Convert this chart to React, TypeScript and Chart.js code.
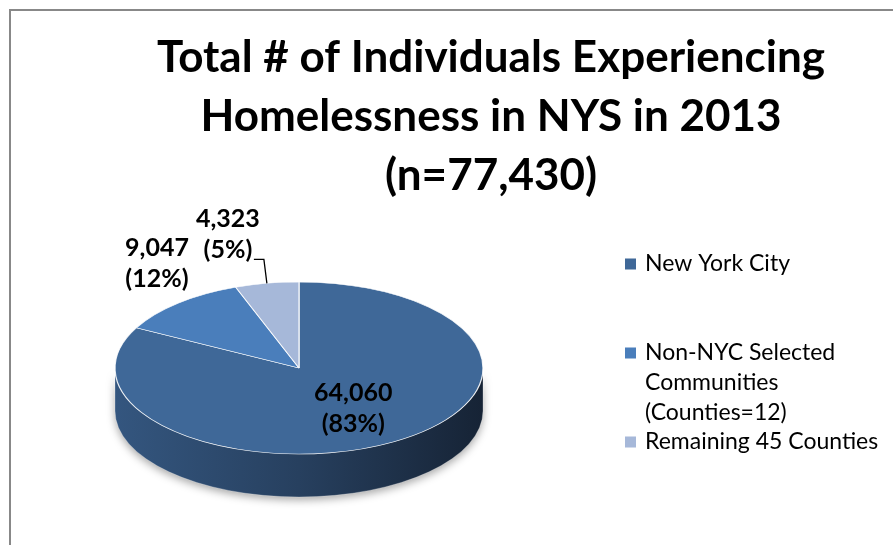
import React, { useEffect, useRef } from "react";
import { Chart, registerables } from "chart.js";

Chart.register(...registerables);

// ---------- data ----------
const categories = [
  "New York City",
  "Non-NYC Selected Communities (Counties=12)",
  "Remaining 45 Counties",
];
const legendLines = [
  ["New York City"],
  ["Non-NYC Selected", "Communities", "(Counties=12)"],
  ["Remaining 45 Counties"],
];
const values = [64060, 9047, 4323];
const percentLabels = ["83%", "12%", "5%"];
const titleLines = [
  "Total # of Individuals Experiencing",
  "Homelessness in NYS in 2013",
  "(n=77,430)",
];

// ---------- styles ----------
const topColors = ["#3F6898", "#4A7EBB", "#A6B8D9"];
const sideColors = [
  ["#34567F", "#27405F", "#162335"],
  ["#3C679A", "#2E5079", "#1F3755"],
  ["#8797B3", "#6E7C95", "#56627A"],
];
const FONT = "Lato, 'Open Sans', sans-serif";
const PIE_CX = 299;
const PIE_CY = 368;
const PIE_RX = 184;
const PIE_RY = 86;
const DEPTH = 43;

// label placement per slice: radial factor and extra offset from that point
const labelPlace = [
  { f: 0.55, dx: 2, dy: 0, leader: false },
  { f: 1, dx: -21, dy: -40, leader: false },
  { f: 1, dx: -39, dy: -49, leader: true },
];

const LEG_X = 625;
const LEG_SQ = 11;
const legendRowY = [264, 353, 442];
const LEG_LINE = 30;

function norm(a: number) {
  const t = Math.PI * 2;
  return ((a % t) + t) % t;
}

const pie3d = {
  id: "pie3d",
  beforeDatasetsDraw(chart: any) {
    const ctx: CanvasRenderingContext2D = chart.ctx;
    const meta = chart.getDatasetMeta(0);
    // sides (front half only, canvas angles 0..PI)
    meta.data.forEach((arc: any, i: number) => {
      const p = arc.getProps(["startAngle", "endAngle"], true);
      const s = p.startAngle;
      const e = p.endAngle;
      for (const shift of [-2 * Math.PI, 0, 2 * Math.PI]) {
        const a1 = Math.max(s + shift, 0);
        const a2 = Math.min(e + shift, Math.PI);
        if (a2 <= a1) continue;
        ctx.save();
        const g = ctx.createLinearGradient(PIE_CX - PIE_RX, 0, PIE_CX + PIE_RX, 0);
        const c = sideColors[i];
        g.addColorStop(0, c[0]);
        g.addColorStop(0.5, c[1]);
        g.addColorStop(1, c[2]);
        ctx.beginPath();
        ctx.ellipse(PIE_CX, PIE_CY, PIE_RX, PIE_RY, 0, a1, a2, false);
        ctx.lineTo(PIE_CX + PIE_RX * Math.cos(a2), PIE_CY + DEPTH + PIE_RY * Math.sin(a2));
        ctx.ellipse(PIE_CX, PIE_CY + DEPTH, PIE_RX, PIE_RY, 0, a2, a1, true);
        ctx.closePath();
        ctx.shadowColor = "rgba(0,0,0,0.35)";
        ctx.shadowBlur = 8;
        ctx.shadowOffsetY = 3;
        ctx.fillStyle = g;
        ctx.fill();
        ctx.shadowColor = "transparent";
        ctx.strokeStyle = "rgba(255,255,255,0.25)";
        ctx.lineWidth = 1;
        ctx.stroke();
        ctx.restore();
      }
    });
    const a0 = meta.data[0];
    const { x, y, outerRadius } = a0.getProps(["x", "y", "outerRadius"], true);
    ctx.save();
    ctx.translate(PIE_CX, PIE_CY);
    ctx.scale(PIE_RX / outerRadius, PIE_RY / outerRadius);
    ctx.translate(-x, -y);
  },
  afterDatasetsDraw(chart: any) {
    const ctx: CanvasRenderingContext2D = chart.ctx;
    ctx.restore();
    const meta = chart.getDatasetMeta(0);
    ctx.save();
    ctx.fillStyle = "#000";
    ctx.textAlign = "center";
    ctx.textBaseline = "middle";
    ctx.font = `bold 25px ${FONT}`;
    meta.data.forEach((arc: any, i: number) => {
      const p = arc.getProps(["startAngle", "endAngle"], true);
      const mid = norm((p.startAngle + p.endAngle) / 2);
      const pl = labelPlace[i];
      const ex = PIE_CX + PIE_RX * Math.cos(mid);
      const ey = PIE_CY + PIE_RY * Math.sin(mid);
      const lx = PIE_CX + PIE_RX * pl.f * Math.cos(mid) + pl.dx;
      const ly = PIE_CY + PIE_RY * pl.f * Math.sin(mid) + pl.dy;
      ctx.fillText(values[i].toLocaleString("en-US"), lx, ly - 15.5);
      ctx.fillText(`(${percentLabels[i]})`, lx, ly + 15.5);
      if (pl.leader) {
        ctx.beginPath();
        ctx.moveTo(ex, ey);
        ctx.lineTo(ex - 3, ey - 24);
        ctx.lineTo(ex - 13, ey - 24);
        ctx.strokeStyle = "#000";
        ctx.lineWidth = 1.3;
        ctx.stroke();
      }
    });
    // legend
    ctx.textAlign = "left";
    ctx.font = `23px ${FONT}`;
    legendLines.forEach((lines, i) => {
      const y0 = legendRowY[i];
      ctx.fillStyle = topColors[i];
      ctx.fillRect(LEG_X, y0 - LEG_SQ / 2, LEG_SQ, LEG_SQ);
      ctx.fillStyle = "#000";
      lines.forEach((t, k) => ctx.fillText(t, LEG_X + 20, y0 + k * LEG_LINE));
    });
    ctx.restore();
  },
};

export default function App() {
  const ref = useRef<HTMLCanvasElement | null>(null);
  useEffect(() => {
    if (!ref.current) return;
    const chart = new Chart(ref.current, {
      type: "pie",
      data: {
        labels: categories,
        datasets: [
          {
            data: values,
            backgroundColor: topColors,
            borderColor: "rgba(255,255,255,0.85)",
            borderWidth: 1.2,
            clip: false as any,
          },
        ],
      },
      options: {
        responsive: false,
        animation: false,
        devicePixelRatio: 1,
        events: [],
        layout: { padding: { left: 89, top: 0, right: 0, bottom: 0 } },
        plugins: {
          legend: { display: false },
          tooltip: { enabled: false },
          title: {
            display: true,
            text: titleLines,
            color: "#000",
            font: { family: FONT, weight: "bold", size: 44, lineHeight: "59px" as any },
            padding: { top: 28, bottom: 0 },
          },
        },
      },
      plugins: [pie3d],
    });
    return () => chart.destroy();
  }, []);
  return (
    <div
      style={{
        position: "fixed",
        left: 0,
        top: 0,
        width: 893,
        height: 545,
        overflow: "hidden",
        background: "#fff",
      }}
    >
      <canvas ref={ref} width={893} height={545} style={{ position: "absolute", left: 0, top: 0 }} />
      <div
        style={{
          position: "absolute",
          left: 9,
          top: 9,
          width: 1000,
          height: 1000,
          borderLeft: "2px solid #888",
          borderTop: "2px solid #888",
          pointerEvents: "none",
        }}
      />
    </div>
  );
}
